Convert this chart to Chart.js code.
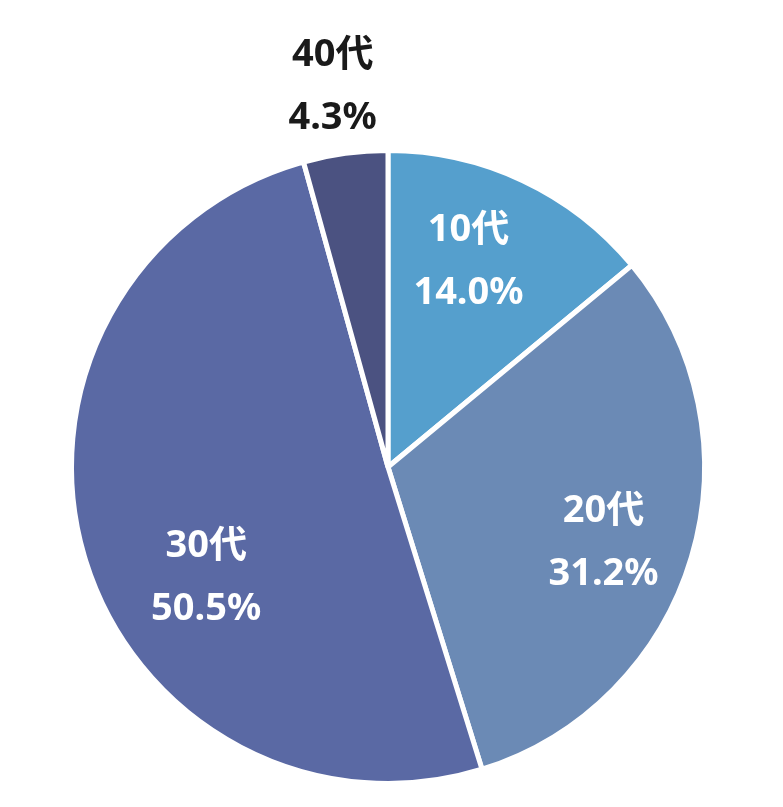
<!DOCTYPE html>
<html>
<head>
<meta charset="utf-8">
<script src="https://cdn.jsdelivr.net/npm/chart.js@4"></script>
<style>
  html, body { margin: 0; padding: 0; background: #fff; }
  #wrap { width: 783px; height: 807px; }
</style>
</head>
<body>
<div id="wrap"><canvas id="pie" width="783" height="807"></canvas></div>
<script>
// age groups and their share (%)
const categories = ['10代', '20代', '30代', '40代'];
const shares = [14.0, 31.2, 50.5, 4.3];
const sliceColors = ['#559fcd', '#6b8ab5', '#5a69a4', '#4b5281'];

// label anchors: angle offset from slice middle (deg) and distance as fraction of radius
const labelAnchors = [
  { dAngle: -3.9, dist: 0.70, color: '#ffffff' },
  { dAngle: 2.4, dist: 0.72, color: '#ffffff' },
  { dAngle: -14.6, dist: 0.67, color: '#ffffff' },
  { dAngle: -0.5, dist: 1.22, color: '#1a1a1a' }
];

const sliceLabels = {
  id: 'sliceLabels',
  afterDatasetsDraw(chart) {
    const ctx = chart.ctx;
    const meta = chart.getDatasetMeta(0);
    ctx.save();
    ctx.font = 'bold 38px "Noto Sans", "Noto Sans CJK JP", sans-serif';
    ctx.textAlign = 'center';
    ctx.textBaseline = 'middle';
    meta.data.forEach((arc, i) => {
      const a = labelAnchors[i];
      const mid = (arc.startAngle + arc.endAngle) / 2 + a.dAngle * Math.PI / 180;
      const r = arc.outerRadius * a.dist;
      const x = arc.x + Math.cos(mid) * r;
      const y = arc.y + Math.sin(mid) * r;
      ctx.fillStyle = a.color;
      ctx.fillText(categories[i], x, y - 30);
      ctx.fillText(shares[i].toFixed(1) + '%', x, y + 33);
    });
    ctx.restore();
  }
};

new Chart(document.getElementById('pie'), {
  type: 'pie',
  data: {
    labels: categories,
    datasets: [{
      data: shares,
      backgroundColor: sliceColors,
      borderColor: '#ffffff',
      borderWidth: 5
    }]
  },
  options: {
    responsive: false,
    animation: false,
    layout: { padding: { left: 69, right: 76, top: 148, bottom: 21 } },
    plugins: {
      legend: { display: false },
      tooltip: { enabled: false }
    }
  },
  plugins: [sliceLabels]
});
</script>
</body>
</html>
